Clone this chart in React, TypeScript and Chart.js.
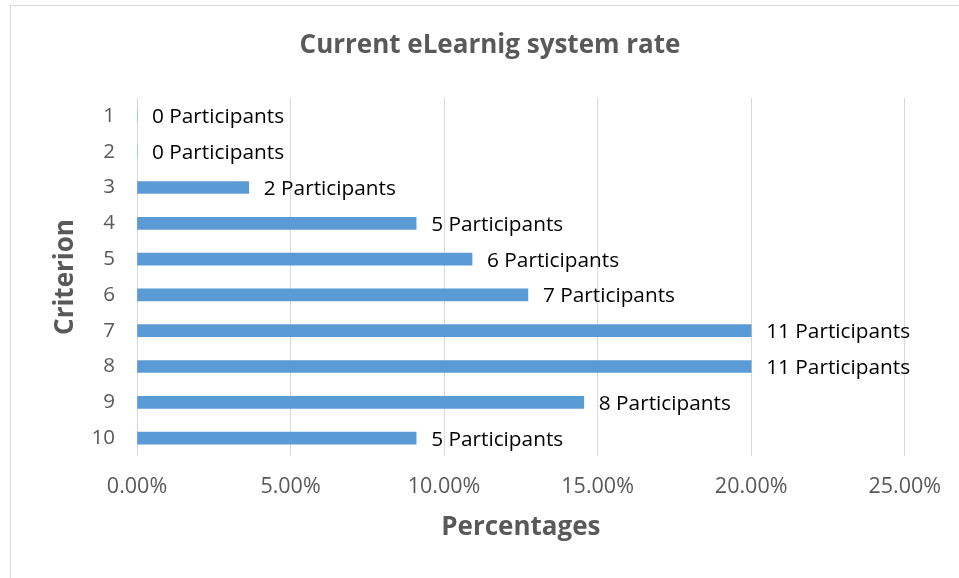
import React, { useEffect, useRef } from "react";
import { Chart, registerables } from "chart.js";

Chart.register(...registerables);

const chartTitle = "Current eLearnig system rate";
const criteria = ["1", "2", "3", "4", "5", "6", "7", "8", "9", "10"];
const participants = [0, 0, 2, 5, 6, 7, 11, 11, 8, 5];
const percentages = [0, 0, 3.64, 9.09, 10.91, 12.73, 20.0, 20.0, 14.55, 9.09];
const xTickMax = 25;
const xTickStep = 5;

const FONT = "'Open Sans', sans-serif";
const GREY = "#595959";

const framePlugin = {
  id: "frame",
  beforeDraw(chart: any) {
    const ctx = chart.ctx;
    ctx.save();
    ctx.fillStyle = "#ffffff";
    ctx.fillRect(0, 0, chart.width, chart.height);
    ctx.strokeStyle = "#d9d9d9";
    ctx.lineWidth = 1;
    ctx.strokeRect(10.5, 5.5, chart.width + 20, chart.height + 20);
    ctx.restore();
  },
  afterDraw(chart: any) {
    const ctx = chart.ctx;
    ctx.save();
    ctx.font = `bold 26px ${FONT}`;
    ctx.fillStyle = GREY;
    ctx.textAlign = "center";
    ctx.textBaseline = "middle";
    ctx.fillText(chartTitle, 490, 46);
    ctx.restore();
  },
};

const labelPlugin = {
  id: "barLabels",
  afterDatasetsDraw(chart: any) {
    const ctx = chart.ctx;
    const meta = chart.getDatasetMeta(0);
    ctx.save();
    ctx.font = `20.8px ${FONT}`;
    ctx.fillStyle = "#000000";
    ctx.textAlign = "left";
    ctx.textBaseline = "middle";
    meta.data.forEach((bar: any, i: number) => {
      ctx.fillText(`${participants[i]} Participants`, bar.x + 15, bar.y + 1.5);
    });
    ctx.restore();
  },
};

export default function App() {
  const ref = useRef<HTMLCanvasElement>(null);
  useEffect(() => {
    if (!ref.current) return;
    const chart = new Chart(ref.current, {
      type: "bar",
      data: {
        labels: criteria,
        datasets: [
          {
            data: percentages,
            backgroundColor: "#5B9BD5",
            barThickness: 12,
          },
        ],
      },
      plugins: [framePlugin, labelPlugin],
      options: {
        indexAxis: "y",
        responsive: false,
        animation: false,
        layout: { padding: { top: 98, left: 0, right: 54, bottom: 0 } },
        plugins: {
          legend: { display: false },
          tooltip: { enabled: false },
          title: { display: false },
        },
        scales: {
          x: {
            min: 0,
            max: xTickMax,
            ticks: {
              stepSize: xTickStep,
              color: GREY,
              font: { family: FONT, size: 21.5 },
              padding: 18,
              callback: (v: any) => Number(v).toFixed(2) + "%",
            },
            grid: { color: "#d9d9d9", lineWidth: 1, drawTicks: false },
            border: { display: false },
            title: {
              display: true,
              text: "Percentages",
              color: GREY,
              font: { family: FONT, size: 26, weight: "bold" },
              padding: { top: 0, bottom: 35 },
            },
            afterFit: (scale: any) => {
              scale.height = 578 - 456;
            },
          },
          y: {
            ticks: {
              color: GREY,
              font: { family: FONT, size: 20.5 },
              padding: 22,
            },
            grid: { display: false, drawTicks: false },
            border: { display: false },
            title: {
              display: true,
              text: "Criterion",
              color: GREY,
              font: { family: FONT, size: 26, weight: "bold" },
              padding: { top: 50, bottom: 0 },
            },
            afterFit: (scale: any) => {
              scale.width = 137;
            },
          },
        },
      },
    });
    return () => chart.destroy();
  }, []);
  return (
    <div style={{ position: "absolute", left: 0, top: 0, width: 959, height: 578 }}>
      <canvas ref={ref} width={959} height={578} style={{ display: "block" }} />
    </div>
  );
}
